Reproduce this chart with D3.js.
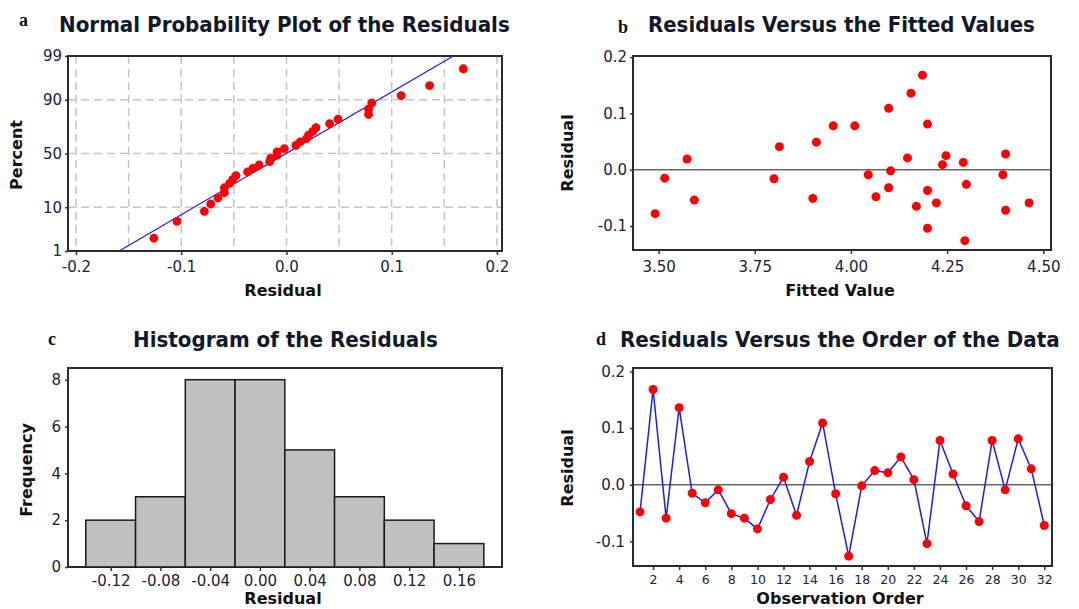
<!DOCTYPE html>
<html><head><meta charset="utf-8">
<script src="https://cdn.jsdelivr.net/npm/d3@7"></script>
<style>
body{margin:0;background:#fff}
svg{display:block}
text{font-family:'DejaVu Sans',Verdana,sans-serif}
</style>
</head><body>
<svg id="chart" width="1079" height="609"></svg>
<script>
// ---------------- data ----------------
const observationOrder = d3.range(1, 33);
const residuals = [-0.048, 0.168, -0.059, 0.136, -0.015, -0.032, -0.009, -0.051,
                   -0.059, -0.078, -0.026, 0.013, -0.054, 0.041, 0.109, -0.016,
                   -0.126, -0.002, 0.025, 0.021, 0.049, 0.009, -0.104, 0.078,
                   0.019, -0.037, -0.065, 0.078, -0.009, 0.081, 0.028, -0.072];
const fittedValues = [4.065, 4.186, 4.222, 4.156, 3.516, 4.098, 4.045, 3.901,
                      4.463, 3.491, 4.300, 4.292, 3.593, 3.814, 4.098, 3.800,
                      4.296, 4.103, 4.247, 4.147, 3.910, 4.238, 4.199, 3.954,
                      3.574, 4.199, 4.170, 4.010, 4.395, 4.199, 4.402, 4.402];
const histBinEdges = [-0.14, -0.10, -0.06, -0.02, 0.02, 0.06, 0.10, 0.14, 0.18];
const histCounts = [2, 3, 8, 8, 5, 3, 2, 1];

const percentTicks = [1, 10, 50, 90, 99];
const percentGrid = [10, 50, 90];
const residualTicksA = [-0.2, -0.1, 0.0, 0.1, 0.2];
const residualGridA = [-0.2, -0.15, -0.1, -0.05, 0.0, 0.05, 0.1, 0.15, 0.2];
const fittedTicks = [3.50, 3.75, 4.00, 4.25, 4.50];
const residualTicksBD = [-0.1, 0.0, 0.1, 0.2];
const histXTicks = [-0.12, -0.08, -0.04, 0.00, 0.04, 0.08, 0.12, 0.16];
const frequencyTicks = [0, 2, 4, 6, 8];
const orderTicks = [2, 4, 6, 8, 10, 12, 14, 16, 18, 20, 22, 24, 26, 28, 30, 32];

const titles = ["Normal Probability Plot of the Residuals", "Residuals Versus the Fitted Values",
                "Histogram of the Residuals", "Residuals Versus the Order of the Data"];

// ---------------- helpers ----------------
function probit(p) { // inverse standard normal CDF (Acklam)
  const a=[-3.969683028665376e+01,2.209460984245205e+02,-2.759285104469687e+02,1.383577518672690e+02,-3.066479806614716e+01,2.506628277459239e+00];
  const b=[-5.447609879822406e+01,1.615858368580409e+02,-1.556989798598866e+02,6.680131188771972e+01,-1.328068155288572e+01];
  const c=[-7.784894002430293e-03,-3.223964580411365e-01,-2.400758277161838e+00,-2.549732539343734e+00,4.374664141464968e+00,2.938163982698783e+00];
  const d=[7.784695709041462e-03,3.224671290700398e-01,2.445134137142996e+00,3.754408661907416e+00];
  const pl=0.02425, ph=1-pl; let q,r;
  if(p<pl){q=Math.sqrt(-2*Math.log(p));return (((((c[0]*q+c[1])*q+c[2])*q+c[3])*q+c[4])*q+c[5])/((((d[0]*q+d[1])*q+d[2])*q+d[3])*q+1);}
  if(p>ph){q=Math.sqrt(-2*Math.log(1-p));return -(((((c[0]*q+c[1])*q+c[2])*q+c[3])*q+c[4])*q+c[5])/((((d[0]*q+d[1])*q+d[2])*q+d[3])*q+1);}
  q=p-0.5;r=q*q;return (((((a[0]*r+a[1])*r+a[2])*r+a[3])*r+a[4])*r+a[5])*q/(((((b[0]*r+b[1])*r+b[2])*r+b[3])*r+b[4])*r+1);
}

const svg = d3.select("#chart");
const TXT = "#1b2238";
const RED = "#ff0000";
const BLUE = "#1a1aff";

function styleAxis(g, size) {
  g.select(".domain").remove();
  g.selectAll(".tick line").attr("stroke", "#333").attr("stroke-width", 1.5);
  g.selectAll(".tick text").attr("fill", TXT).style("font-size", size + "px")
    .style("font-family", "'DejaVu Sans',sans-serif");
}
function frame(x0, x1, y0, y1) {
  svg.append("rect").attr("x", x0).attr("y", y0).attr("width", x1 - x0).attr("height", y1 - y0)
    .attr("fill", "none").attr("stroke", "#2a2a2a").attr("stroke-width", 2);
}
function title(txt, x0, x1, y) {
  const t = svg.append("text").attr("x", 0).attr("y", 0).attr("fill", "#10182a")
    .style("font-size", "22px").style("font-weight", "bold").text(txt);
  const len = t.node().getComputedTextLength();
  t.attr("transform", `translate(${x0},${y}) scale(${(x1 - x0) / len},1)`);
}
function letter(t, x, y) {
  svg.append("text").attr("x", x).attr("y", y).attr("fill", "#111")
    .style("font-family", "'Liberation Serif','DejaVu Serif',serif").style("font-size", "18px")
    .style("font-weight", "bold").text(t);
}
function xLabel(t, x, y) {
  svg.append("text").attr("x", x).attr("y", y).attr("text-anchor", "middle").attr("fill", "#111")
    .style("font-size", "16px").style("font-weight", "bold").text(t);
}
function yLabel(t, x, y) {
  svg.append("text").attr("transform", `translate(${x},${y}) rotate(-90)`).attr("text-anchor", "middle")
    .attr("fill", "#111").style("font-size", "16px").style("font-weight", "bold").text(t);
}

// ---------------- panel a ----------------
{
  const L = 68, R = 502, T = 56, B = 251;
  const x = d3.scaleLinear().domain([-0.2076, 0.2048]).range([L, R]);
  const y = d3.scaleLinear().domain([probit(0.01), probit(0.99)]).range([B, T]);
  const g = svg.append("g");
  g.selectAll("line.vg").data(residualGridA).join("line")
    .attr("x1", d => x(d)).attr("x2", d => x(d)).attr("y1", T).attr("y2", B)
    .attr("stroke", "#c4c4c4").attr("stroke-width", 1.5).attr("stroke-dasharray", "8,5");
  g.selectAll("line.hg").data(percentGrid).join("line")
    .attr("x1", L).attr("x2", R).attr("y1", d => y(probit(d / 100))).attr("y2", d => y(probit(d / 100)))
    .attr("stroke", "#c4c4c4").attr("stroke-width", 1.5).attr("stroke-dasharray", "8,5");
  frame(L, R, T, B);
  const n = residuals.length;
  const mu = d3.mean(residuals), sd = d3.deviation(residuals);
  const zLo = probit(0.01), zHi = probit(0.99);
  svg.append("defs").append("clipPath").attr("id", "clipA").append("rect")
    .attr("x", L).attr("y", T).attr("width", R - L).attr("height", B - T);
  svg.append("line").attr("clip-path", "url(#clipA)")
    .attr("x1", x(mu + zLo * sd)).attr("y1", y(zLo)).attr("x2", x(mu + zHi * sd)).attr("y2", y(zHi))
    .attr("stroke", BLUE).attr("stroke-width", 1.2);
  const sorted = residuals.slice().sort(d3.ascending);
  svg.append("g").selectAll("circle").data(sorted).join("circle")
    .attr("cx", d => x(d)).attr("cy", (d, i) => y(probit((i + 1 - 0.3) / (n + 0.4))))
    .attr("r", 4.4).attr("fill", RED);
  const ax = svg.append("g").attr("transform", `translate(0,${B})`)
    .call(d3.axisBottom(x).tickValues(residualTicksA).tickSize(4).tickPadding(6).tickFormat(d => d.toFixed(1)));
  styleAxis(ax, 15);
  const ay = svg.append("g").attr("transform", `translate(${L},0)`)
    .call(d3.axisLeft(d3.scaleLinear().domain(y.domain()).range(y.range()))
      .tickValues(percentTicks.map(p => probit(p / 100))).tickSize(3).tickPadding(3)
      .tickFormat((d, i) => String(percentTicks[i])));
  styleAxis(ay, 15);
  title(titles[0], 59, 510, 32);
  letter("a", 19, 26);
  xLabel("Residual", 283, 296);
  yLabel("Percent", 22, 155);
}

// ---------------- panel b ----------------
{
  const L = 633, R = 1051, T = 56, B = 250;
  const x = d3.scaleLinear().domain([3.4335, 4.52]).range([L, R]);
  const y = d3.scaleLinear().domain([-0.1426, 0.202]).range([B, T]);
  svg.append("line").attr("x1", L).attr("x2", R).attr("y1", y(0)).attr("y2", y(0))
    .attr("stroke", "#666").attr("stroke-width", 1.5);
  frame(L, R, T, B);
  svg.append("g").selectAll("circle").data(residuals).join("circle")
    .attr("cx", (d, i) => x(fittedValues[i])).attr("cy", d => y(d)).attr("r", 4.5).attr("fill", RED);
  const ax = svg.append("g").attr("transform", `translate(0,${B})`)
    .call(d3.axisBottom(x).tickValues(fittedTicks).tickSize(4).tickPadding(7).tickFormat(d => d.toFixed(2)));
  styleAxis(ax, 15);
  const ay = svg.append("g").attr("transform", `translate(${L},0)`)
    .call(d3.axisLeft(y).tickValues(residualTicksBD).tickSize(3).tickPadding(3).tickFormat(d => d.toFixed(1)));
  styleAxis(ay, 15);
  title(titles[1], 648, 1035, 32);
  letter("b", 618, 33);
  xLabel("Fitted Value", 840, 296);
  yLabel("Residual", 573, 153);
}

// ---------------- panel c ----------------
{
  const L = 68, R = 502, T = 368, B = 567;
  const x = d3.scaleLinear().domain([-0.1543, 0.1946]).range([L, R]);
  const y = d3.scaleLinear().domain([0, 8.5]).range([B, T]);
  frame(L, R, T, B);
  svg.append("g").selectAll("rect").data(histCounts).join("rect")
    .attr("x", (d, i) => x(histBinEdges[i])).attr("width", (d, i) => x(histBinEdges[i + 1]) - x(histBinEdges[i]))
    .attr("y", d => y(d)).attr("height", d => y(0) - y(d))
    .attr("fill", "#c0c0c0").attr("stroke", "#1a1a1a").attr("stroke-width", 1.5);
  const ax = svg.append("g").attr("transform", `translate(0,${B})`)
    .call(d3.axisBottom(x).tickValues(histXTicks).tickSize(4).tickPadding(4).tickFormat(d => d.toFixed(2)));
  styleAxis(ax, 15);
  const ay = svg.append("g").attr("transform", `translate(${L},0)`)
    .call(d3.axisLeft(y).tickValues(frequencyTicks).tickSize(3).tickPadding(4).tickFormat(d3.format("d")));
  styleAxis(ay, 15);
  title(titles[2], 133, 438, 347);
  letter("c", 48, 345);
  xLabel("Residual", 283, 604);
  yLabel("Frequency", 32, 470);
}

// ---------------- panel d ----------------
{
  const L = 633, R = 1052, T = 368, B = 566;
  const x = d3.scaleLinear().domain([0.46, 32.59]).range([L, R]);
  const y = d3.scaleLinear().domain([-0.1434, 0.206]).range([B, T]);
  svg.append("line").attr("x1", L).attr("x2", R).attr("y1", y(0)).attr("y2", y(0))
    .attr("stroke", "#666").attr("stroke-width", 1.5);
  frame(L, R, T, B);
  svg.append("path").datum(residuals)
    .attr("d", d3.line().x((d, i) => x(observationOrder[i])).y(d => y(d)))
    .attr("fill", "none").attr("stroke", BLUE).attr("stroke-width", 1.5);
  svg.append("g").selectAll("circle").data(residuals).join("circle")
    .attr("cx", (d, i) => x(observationOrder[i])).attr("cy", d => y(d)).attr("r", 4.5).attr("fill", RED);
  const ax = svg.append("g").attr("transform", `translate(0,${B})`)
    .call(d3.axisBottom(x).tickValues(orderTicks).tickSize(4).tickPadding(5).tickFormat(d3.format("d")));
  styleAxis(ax, 12.5);
  const ay = svg.append("g").attr("transform", `translate(${L},0)`)
    .call(d3.axisLeft(y).tickValues(residualTicksBD).tickSize(3).tickPadding(5).tickFormat(d => d.toFixed(1)));
  styleAxis(ay, 15);
  title(titles[3], 620, 1060, 347);
  letter("d", 596, 345);
  xLabel("Observation Order", 840, 604);
  yLabel("Residual", 573, 468);
}
</script>
</body></html>
